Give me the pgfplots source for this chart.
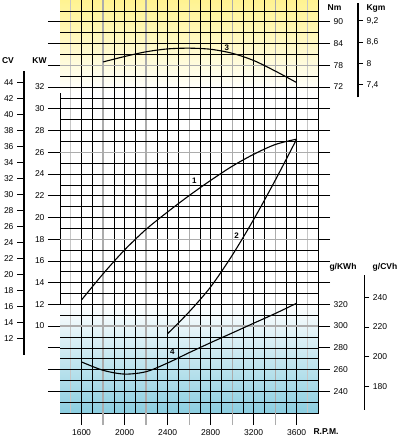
\documentclass[border=0pt]{standalone}
\usepackage{pgfplots}
\pgfplotsset{compat=1.18}
\usepackage{fontspec}
\setmainfont{Liberation Sans}
\definecolor{topyel}{RGB}{255,243,145}
\definecolor{botblue}{RGB}{140,206,224}
\begin{document}
\begin{tikzpicture}[font=\fontsize{8.5}{10}\selectfont]
\useasboundingbox (0,0) rectangle (398pt,439pt);
\pgfplotsset{every axis/.append style={scale only axis,
  /pgf/number format/assume math mode=true,
  tick label style={font=\fontsize{8.5}{10}\selectfont}}}
% ---------------- main axis (KW / RPM) ----------------
\begin{axis}[
  at={(60pt,26pt)}, anchor=south west,
  width=258.2pt, height=413pt,
  xmin=1400, xmax=3800, ymin=2, ymax=40,
  axis line style={black, line width=0.6pt},
  tick align=outside,
  xtick={1600,2000,2400,2800,3200,3600},
  xticklabels={1600,2000,2400,2800,3200,3600},
  xtick pos=lower, ytick pos=left,
  extra x ticks={1800,2200,2600,3000,3400}, extra x tick labels={},
  extra x tick style={major tick style={gray!65, line width=1.2pt}, xtick pos=lower},
  ytick={10,12,...,32},
  extra y ticks={4,6,8,34,36,38}, extra y tick labels={},
  extra y tick style={ytick pos=left},
  major tick length=12pt,
  major tick style={black, line width=0.6pt},
  xticklabel style={yshift=-1pt},
]
% background shading
\fill[top color=topyel, bottom color=white] (axis cs:1400,40) rectangle (axis cs:3800,31.5);
\fill[top color=white, bottom color=botblue] (axis cs:1400,12) rectangle (axis cs:3800,2);
% grid
\pgfplotsinvokeforeach{1700,1900,2100,2300,2500,2700,2900,3100,3300,3500}{
  \draw[black, line width=0.5pt] (axis cs:#1,2) -- (axis cs:#1,40);}
\pgfplotsinvokeforeach{1500,3700}{
  \draw[gray!45, line width=1pt] (axis cs:#1,2) -- (axis cs:#1,40);}
\pgfplotsinvokeforeach{1800,2200,2600,3000,3400}{
  \draw[gray!65, line width=1.2pt] (axis cs:#1,2) -- (axis cs:#1,40);}
\pgfplotsinvokeforeach{1600,2000,2400,2800,3200,3600}{
  \draw[black, line width=0.8pt] (axis cs:#1,2) -- (axis cs:#1,40);}
\pgfplotsinvokeforeach{3,4,5,7,8,9,11,12,13,15,16,17,19,20,21,23,24,25,27,28,29,31,32,33,35,36,37,39}{
  \draw[black, line width=0.5pt] (axis cs:1400,#1) -- (axis cs:3800,#1);}
\pgfplotsinvokeforeach{10,18,26,34}{
  \draw[gray!65, line width=1.2pt] (axis cs:1400,#1) -- (axis cs:3800,#1);}
\pgfplotsinvokeforeach{6,14,22,30,38}{
  \draw[black, line width=0.8pt] (axis cs:1400,#1) -- (axis cs:3800,#1);}
% curve 1 : power (KW)
\addplot[black, line width=1.1pt, smooth] coordinates {
 (1600,12.4) (1800,14.8) (2000,17.0) (2200,18.9) (2400,20.5) (2600,22.0)
 (2800,23.4) (3000,24.7) (3200,25.8) (3400,26.7) (3600,27.2)};
% curve 2 (KW)
\addplot[black, line width=1.1pt, smooth] coordinates {
 (2400,9.3) (2600,11.3) (2800,13.6) (3000,16.5) (3200,19.8) (3400,23.4)
 (3600,27.2)};
% curve 3 : torque (Nm)
\addplot[black, line width=1.1pt, smooth] table[x=rpm, y expr={32+(\thisrow{nm}-72)/3}] {
rpm nm
1800 78.9
2000 80.4
2200 81.7
2400 82.5
2600 82.7
2800 82.4
3000 81.3
3200 79.3
3400 76.4
3600 73.2
};
% curve 4 : consumption (g/KWh)
\addplot[black, line width=1.1pt, smooth] table[x=rpm, y expr={(\thisrow{g}-200)/10}] {
rpm g
1600 267
1800 259.3
2000 255.8
2200 258
2400 266
2600 275.5
2800 284.7
3000 293.6
3200 302.6
3400 311.5
3600 321
};
\node[font=\bfseries\fontsize{8}{9}\selectfont] at (axis cs:2648,23.4) {1};
\node[font=\bfseries\fontsize{8}{9}\selectfont] at (axis cs:3042,18.35) {2};
\node[font=\bfseries\fontsize{8}{9}\selectfont] at (axis cs:2950,35.6) {3};
\node[font=\bfseries\fontsize{8}{9}\selectfont] at (axis cs:2444,7.68) {4};
\end{axis}
% ---------------- right scales Nm and g/KWh ----------------
\begin{axis}[
  at={(60pt,26pt)}, anchor=south west,
  width=258.2pt, height=413pt,
  xmin=1400, xmax=3800, ymin=2, ymax=40,
  axis x line=none, axis y line*=right,
  axis line style={black, line width=0.6pt},
  tick align=outside, major tick length=12pt,
  major tick style={black, line width=0.6pt},
  ytick={4,6,...,38},
  yticklabels={240,260,280,300,320,{},{},{},{},{},{},{},{},{},72,78,84,90},
]
\end{axis}
% ---------------- CV scale ----------------
\begin{axis}[
  at={(24pt,84.2pt)}, anchor=south west,
  width=1pt, height=283.8pt,
  xmin=0, xmax=1, ymin=10, ymax=45.5,
  axis x line=none, axis y line*=left,
  axis line style={black, line width=1.3pt},
  tick align=outside, major tick length=7pt,
  major tick style={black, line width=1pt},
  ytick={12,14,...,44},
]
\end{axis}
% ---------------- Kgm scale ----------------
\begin{axis}[
  at={(358pt,341.7pt)}, anchor=south east,
  width=1pt, height=94.1pt,
  xmin=0, xmax=1, ymin=7.05, ymax=9.7,
  axis x line=none, axis y line*=right,
  axis line style={black, line width=1.3pt},
  tick align=outside, major tick length=5pt,
  major tick style={black, line width=1pt},
  ytick={7.4,8,8.6,9.2},
  yticklabels={{7,4},8,{8,6},{9,2}},
]
\end{axis}
% ---------------- g/CVh scale ----------------
\begin{axis}[
  at={(364.3pt,29.2pt)}, anchor=south east,
  width=1pt, height=134.5pt,
  xmin=0, xmax=1, ymin=164, ymax=255,
  axis x line=none, axis y line*=right,
  axis line style={black, line width=1.3pt},
  tick align=outside, major tick length=5pt,
  major tick style={black, line width=1pt},
  ytick={180,200,220,240},
]
\end{axis}
% ---------------- unit labels ----------------
\begin{scope}[every node/.style={font=\bfseries\fontsize{8.5}{10}\selectfont, inner sep=0pt}]
\node at (8pt,378pt) {CV};
\node at (39.5pt,378pt) {KW};
\node at (334.5pt,431pt) {Nm};
\node at (376pt,431pt) {Kgm};
\node at (343pt,172pt) {g/KWh};
\node at (385pt,172pt) {g/CVh};
\node at (326pt,7pt) {R.P.M.};
\end{scope}
\end{tikzpicture}
\end{document}
